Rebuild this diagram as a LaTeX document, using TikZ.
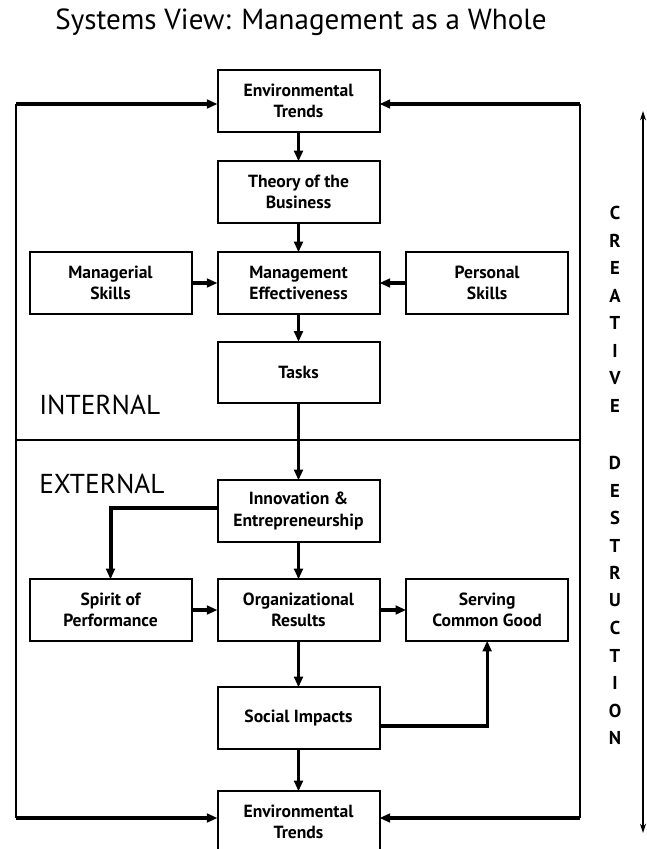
\documentclass[tikz,border=0pt]{standalone}
\usepackage{fontspec}
\setmainfont{PT Sans}
\usetikzlibrary{positioning,arrows.meta}

\begin{document}
\begin{tikzpicture}[
        x=0.75pt, y=-0.75pt,
        node distance=20pt,
        box/.style={
            draw,
            rectangle,
            line width=1.5pt,
            outer sep=0pt,
            align=center,
            inner sep=2pt,
            minimum width=121.5pt,
            minimum height=46pt,
            font=\fontsize{13.2}{16}\selectfont\bfseries
        },
        conn/.style={line width=2.4pt, -{Triangle[length=8pt,width=6.5pt]}},
        frame/.style={line width=0.8pt},
        letter/.style={inner sep=0pt, font=\fontsize{14}{14}\selectfont\bfseries},
        side/.style={inner sep=0pt, font=\fontsize{20.5}{21}\selectfont}
    ]
        \useasboundingbox (0,0) rectangle (646,849);

        \node (title) at (301,22) {\fontsize{21.8}{24}\selectfont Systems View: Management as a Whole};

        % main column
        \node[box] (envTop) at (298.5,101) {Environmental\\Trends};
        \node[box] (theory) at (298.5,192) {Theory of the\\Business};
        \node[box] (mgmt) at (298.5,283) {Management\\Effectiveness};
        \node[box] (tasks) at (298.5,372.5) {Tasks};
        \node[box] (innov) at (298.5,511) {Innovation \&\\Entrepreneurship};
        \node[box] (results) at (298.5,610) {Organizational\\Results};
        \node[box] (social) at (298.5,718) {Social Impacts};
        \node[box] (envBot) at (298.5,822) {Environmental\\Trends};

        % side boxes
        \node[box] (mgrSkills) [left=19.5pt of mgmt] {Managerial\\Skills};
        \node[box] (perSkills) [right=20pt of mgmt] {Personal\\Skills};
        \node[box] (spirit) [left=19.5pt of results] {Spirit of\\Performance};
        \node[box] (common) [right=20pt of results] {Serving\\Common Good};

        \node[side, anchor=west] (internal) at (39,405) {INTERNAL};
        \node[side, anchor=west] (external) at (39,484) {EXTERNAL};

        % frame
        \coordinate (tl) at (16,104);
        \coordinate (tr) at (580,104);
        \coordinate (bl) at (16,818);
        \coordinate (br) at (580,818);
        \coordinate (ml) at (16,440);
        \coordinate (mr) at (580,440);
        \draw[frame] (tl) -- (bl);
        \draw[frame] (tr) -- (br);
        \draw[frame] (ml) -- (mr);
        \draw[conn] (tl) -- (tl -| envTop.west);
        \draw[conn] (tr) -- (tr -| envTop.east);
        \draw[conn] (bl) -- (bl -| envBot.west);
        \draw[conn] (br) -- (br -| envBot.east);

        \draw[conn] (envTop) -- (theory);
        \draw[conn] (theory) -- (mgmt);
        \draw[conn] (mgrSkills) -- (mgmt);
        \draw[conn] (perSkills) -- (mgmt);
        \draw[conn] (mgmt) -- (tasks);
        \draw[conn] (tasks) -- (innov);
        \draw[conn, line width=3pt] ([yshift=2pt]innov.west) -| (spirit.north);
        \draw[conn] (innov) -- (results);
        \draw[conn] (spirit) -- (results);
        \draw[conn] (results) -- (common);
        \draw[conn] (results) -- (social);
        \draw[conn] ([yshift=-6pt]social.east) -| (common.south);
        \draw[conn] (social) -- (envBot);

        % creative destruction
        \coordinate (cdTop) at (643,111);
        \coordinate (cdBot) at (643,833);
        \draw[frame, {Stealth[length=7pt,width=4.5pt]}-{Stealth[length=7pt,width=4.5pt]}] (cdTop) -- (cdBot);
        \foreach \ch [count=\i from 0] in {C,R,E,A,T,I,V,E}
            \node[letter] (cr\i) at (615,213+27.5*\i) {\ch};
        \foreach \ch [count=\i from 0] in {D,E,S,T,R,U,C,T,I,O,N}
            \node[letter] (de\i) at (615,463+27.5*\i) {\ch};
    \end{tikzpicture}
\end{document}
